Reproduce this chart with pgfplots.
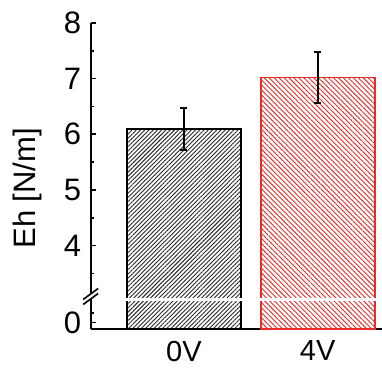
\documentclass[border=0pt]{standalone}
\usepackage{pgfplots}
\pgfplotsset{compat=1.18}
\usepackage{fontspec}
\setmainfont{Liberation Sans}
\usetikzlibrary{patterns.meta}
\definecolor{myred}{RGB}{232,45,40}
\begin{document}
\fontsize{31}{36}\selectfont
\begin{tikzpicture}
\begin{axis}[
  name=ax,
  scale only axis,
  width=291pt, height=306pt,
  xmin=-0.696, xmax=1.478,
  ymin=2.5, ymax=8,
  axis x line*=bottom, axis y line*=left,
  axis line style={line width=2pt,-},
  ytick={2.62,4,5,6,7,8},
  yticklabels={0,4,5,6,7,8},
  minor ytick={2.79,3.5,4.5,5.5,6.5,7.5},
  tick align=inside,
  major tick length=5pt, minor tick length=3.5pt,
  every tick/.style={line width=1.6pt,black},
  xtick={0,1}, xticklabels={0V,4V},
  x tick style={draw=none},
  yticklabel style={font=\fontsize{31}{36}\selectfont, xshift=1pt},
  xticklabel style={font=\fontsize{29}{34}\selectfont, yshift=-1.5pt},
  /pgf/number format/assume math mode=true,
  ylabel={Eh [N/m]},
  every axis y label/.style={at={(axis description cs:-0.191,0.46)}, rotate=90, anchor=base, font=\fontsize{31}{36}\selectfont},
]
\addplot[ybar, bar width=114pt, bar shift=0pt, draw=black, line width=1.8pt,
  pattern={Lines[angle=45,distance=3pt,line width=0.9pt]}, pattern color=black!85,
  error bars/.cd, y dir=both, y explicit,
  error bar style={line width=2pt,black},
  error mark options={rotate=90,line width=2pt,mark size=3.5pt,black}]
  coordinates {(0,6.09) +- (0,0.38)};
\addplot[ybar, bar width=114pt, bar shift=0pt, draw=myred, line width=1.8pt,
  pattern={Lines[angle=-45,distance=3.5pt,line width=0.9pt]}, pattern color=myred,
  error bars/.cd, y dir=both, y explicit,
  error bar style={line width=2pt,black},
  error mark options={rotate=90,line width=2pt,mark size=3.5pt,black}]
  coordinates {(1,7.02) +- (0,0.45)};
\coordinate (bl) at (axis cs:-0.696,3.03);
\coordinate (br) at (axis cs:1.478,3.03);
\coordinate (bk) at (axis cs:-0.696,3.085);
\end{axis}
\draw[white, line width=2.2pt] ([xshift=4pt]bl) -- (br);
\fill[white] ([shift={(-7.5pt,-8pt)}]bk) -- ([shift={(7.5pt,3pt)}]bk) -- ([shift={(7.5pt,8pt)}]bk) -- ([shift={(-7.5pt,-3pt)}]bk) -- cycle;
\draw[black, line width=1.6pt] ([shift={(-7.5pt,-8pt)}]bk) -- ([shift={(7.5pt,3pt)}]bk);
\draw[black, line width=1.6pt] ([shift={(-7.5pt,-3pt)}]bk) -- ([shift={(7.5pt,8pt)}]bk);
\pgfresetboundingbox
\path[use as bounding box] (ax.south west) ++(-90.7pt,-39pt) rectangle ++(382pt,368pt);
\end{tikzpicture}
\end{document}
